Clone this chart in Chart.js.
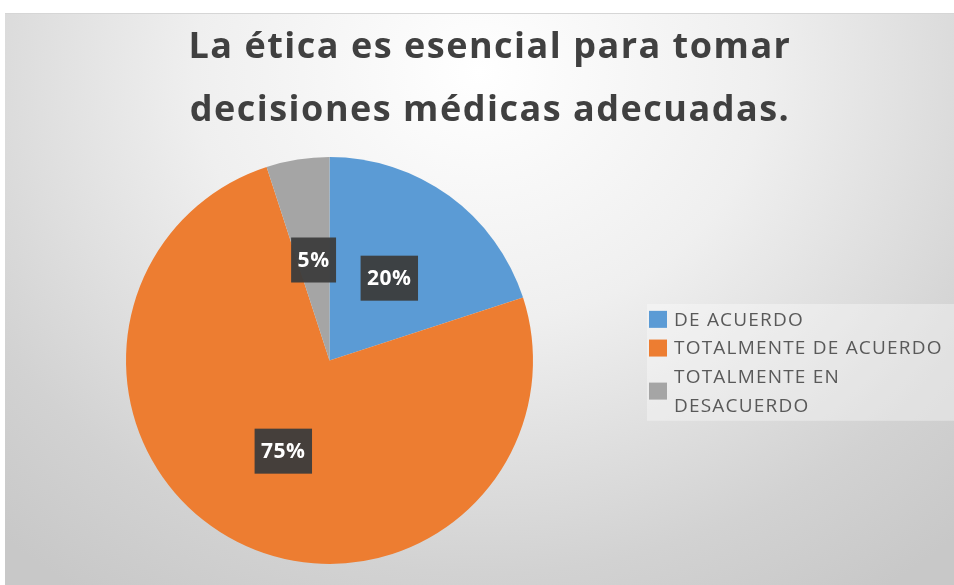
<!DOCTYPE html>
<html>
<head>
<meta charset="utf-8">
<script src="https://cdn.jsdelivr.net/npm/chart.js@4.4.1/dist/chart.umd.min.js"></script>
<style>
  html, body { margin: 0; padding: 0; background: #ffffff; }
  #wrap {
    position: absolute; left: 5px; top: 13px; width: 949px; height: 572px;
    background: radial-gradient(ellipse 75% 110% at 50% 10%, #ffffff 0%, #efefef 40%, #d2d2d2 80%, #c8c8c8 100%);
    border-top: 1px solid #d6d6d6;
    box-sizing: border-box;
  }
  canvas { display: block; }
</style>
</head>
<body>
<div id="wrap"><canvas id="pie" width="949" height="571"></canvas></div>
<script>
// data
const titleLines = ['La ética es esencial para tomar', 'decisiones médicas adecuadas.'];
const categories = ['DE ACUERDO', 'TOTALMENTE DE ACUERDO', 'TOTALMENTE EN DESACUERDO'];
const percentages = [20, 75, 5];
const sliceColors = ['#5B9BD5', '#ED7D31', '#A5A5A5'];

const FONT = '"Open Sans", Lato, sans-serif';

// title drawn above the pie
const titlePlugin = {
  id: 'titleLines',
  afterDraw(chart) {
    const ctx = chart.ctx;
    ctx.save();
    ctx.font = 'bold 36px ' + FONT;
    ctx.letterSpacing = '1.5px';
    ctx.fillStyle = '#404040';
    ctx.textAlign = 'center';
    ctx.textBaseline = 'alphabetic';
    titleLines.forEach((t, i) => ctx.fillText(t, 485, 44 + i * 63));
    ctx.restore();
  }
};

// dark boxed percentage labels at the middle of each slice
const labelPlugin = {
  id: 'sliceLabels',
  afterDatasetsDraw(chart) {
    const ctx = chart.ctx;
    const meta = chart.getDatasetMeta(0);
    ctx.save();
    ctx.font = 'bold 21px ' + FONT;
    ctx.letterSpacing = '0.5px';
    ctx.textAlign = 'center';
    ctx.textBaseline = 'middle';
    meta.data.forEach((arc, i) => {
      const p = arc.tooltipPosition();
      const txt = percentages[i] + '%';
      const w = ctx.measureText(txt).width + 13;
      const h = 45;
      ctx.fillStyle = 'rgba(60,60,60,0.95)';
      ctx.fillRect(p.x - w / 2, p.y - h / 2, w, h);
      ctx.fillStyle = '#ffffff';
      ctx.fillText(txt, p.x, p.y + 1);
    });
    ctx.restore();
  }
};

// legend on the right, wrapping long labels like the original
const legendPlugin = {
  id: 'sideLegend',
  afterDraw(chart) {
    const ctx = chart.ctx;
    const x0 = 644, top = 291, lineH = 28.7, maxW = 282;
    ctx.save();
    ctx.font = '19px ' + FONT;
    ctx.letterSpacing = '1.2px';

    const items = chart.data.labels.map(lbl => {
      const words = lbl.split(' ');
      const lines = [];
      let cur = '';
      words.forEach(w => {
        const test = cur ? cur + ' ' + w : w;
        if (cur && ctx.measureText(test).width > maxW) { lines.push(cur); cur = w; }
        else cur = test;
      });
      lines.push(cur);
      return lines;
    });
    const total = items.reduce((s, l) => s + l.length, 0);

    ctx.fillStyle = 'rgba(255,255,255,0.35)';
    ctx.fillRect(x0 - 2, top - 1, 949 - x0 + 2, total * lineH + 2);

    let y = top;
    items.forEach((lines, i) => {
      const mid = y + lines.length * lineH / 2;
      ctx.fillStyle = chart.data.datasets[0].backgroundColor[i];
      ctx.fillRect(x0, mid - 8.5, 18, 17);
      ctx.fillStyle = '#595959';
      ctx.textBaseline = 'middle';
      lines.forEach((ln, j) => ctx.fillText(ln, x0 + 25, y + (j + 0.5) * lineH + 1));
      y += lines.length * lineH;
    });
    ctx.restore();
  }
};

new Chart(document.getElementById('pie'), {
  type: 'pie',
  data: {
    labels: categories,
    datasets: [{
      data: percentages,
      backgroundColor: sliceColors,
      borderWidth: 0
    }]
  },
  options: {
    responsive: false,
    animation: false,
    layout: { padding: { left: 121, right: 421, top: 143, bottom: 21 } },
    plugins: {
      legend: { display: false },
      tooltip: { enabled: false },
      title: { display: false }
    }
  },
  plugins: [titlePlugin, labelPlugin, legendPlugin]
});
</script>
</body>
</html>
